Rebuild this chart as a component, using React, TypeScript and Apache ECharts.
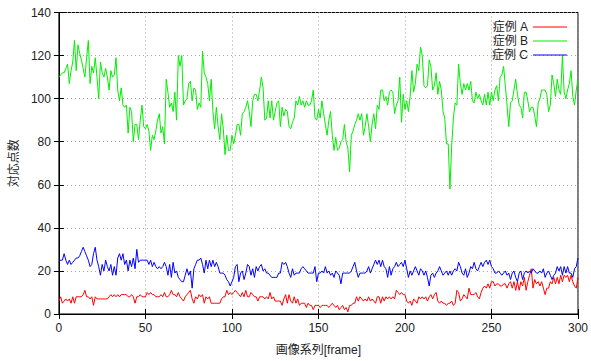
import React, { useEffect, useRef } from "react";
import * as echarts from "echarts";

const seriesNames = ["症例 A", "症例 B", "症例 C"];
const xTitle = "画像系列[frame]";
const yTitle = "対応点数";

// values per frame 0..300
const caseA = [
  6, 8, 5, 6, 7, 6, 7, 5, 8, 5, 8, 8, 8, 8, 9, 11, 8, 8, 7, 8,
  4, 8, 7, 7, 7, 7, 7, 7, 7, 8, 9, 8, 9, 8, 9, 8, 9, 9, 9, 9,
  8, 8, 9, 8, 5, 8, 8, 9, 8, 8, 8, 10, 9, 10, 9, 9, 8, 8, 8, 9,
  8, 10, 8, 8, 9, 11, 9, 9, 8, 10, 8, 7, 6, 8, 9, 10, 11, 7, 5, 8,
  7, 9, 8, 9, 5, 8, 7, 8, 5, 5, 5, 5, 5, 5, 7, 8, 8, 11, 9, 10,
  9, 10, 11, 10, 9, 8, 10, 8, 11, 8, 8, 10, 9, 8, 8, 6, 8, 8, 8, 7,
  8, 7, 10, 7, 8, 6, 6, 6, 6, 4, 7, 9, 5, 9, 6, 5, 8, 5, 7, 4,
  5, 5, 5, 3, 5, 4, 4, 2, 4, 4, 4, 3, 4, 4, 4, 4, 3, 4, 5, 4,
  3, 4, 2, 3, 4, 2, 3, 1, 4, 4, 5, 5, 8, 6, 8, 7, 6, 7, 6, 8,
  6, 7, 6, 5, 8, 8, 5, 8, 6, 8, 7, 8, 7, 8, 7, 11, 10, 9, 10, 9,
  9, 6, 5, 6, 4, 7, 6, 5, 8, 7, 8, 7, 8, 6, 8, 9, 7, 9, 10, 6,
  5, 6, 5, 5, 4, 5, 5, 6, 4, 5, 11, 10, 6, 7, 9, 8, 7, 12, 9, 9,
  9, 10, 8, 7, 10, 12, 13, 12, 14, 12, 15, 15, 13, 14, 14, 13, 13, 14, 14, 12,
  14, 15, 12, 15, 11, 15, 11, 15, 13, 17, 11, 15, 18, 21, 12, 16, 14, 15, 13, 15,
  12, 9, 12, 12, 15, 14, 17, 14, 17, 14, 18, 15, 18, 17, 18, 15, 18, 15, 13, 12,
  17,
];

const caseB = [
  110, 111, 112, 112, 114, 116, 107, 113, 117, 127, 113, 125, 121, 118, 114, 110, 119, 127, 107, 115,
  112, 119, 110, 100, 117, 112, 110, 114, 110, 104, 113, 110, 111, 119, 104, 99, 105, 97, 96, 97,
  84, 96, 94, 80, 88, 88, 81, 90, 97, 87, 86, 88, 85, 76, 83, 81, 85, 90, 93, 84,
  87, 79, 109, 103, 96, 98, 94, 103, 90, 120, 115, 120, 97, 99, 100, 107, 108, 99, 105, 104,
  95, 98, 96, 122, 112, 110, 107, 99, 109, 94, 86, 96, 87, 81, 93, 86, 74, 83, 76, 76,
  83, 79, 83, 88, 88, 83, 93, 94, 96, 99, 94, 87, 99, 102, 102, 99, 104, 110, 105, 90,
  91, 99, 91, 99, 90, 94, 98, 99, 87, 96, 92, 95, 94, 87, 86, 89, 91, 99, 97, 101,
  97, 99, 96, 99, 97, 97, 99, 104, 91, 90, 95, 91, 99, 93, 88, 83, 90, 94, 83, 76,
  82, 76, 77, 80, 81, 88, 80, 77, 66, 83, 85, 88, 90, 93, 90, 93, 83, 87, 93, 87,
  80, 88, 93, 86, 97, 95, 104, 104, 99, 101, 97, 103, 104, 103, 93, 97, 99, 110, 89, 102,
  95, 99, 94, 101, 113, 103, 107, 116, 113, 124, 120, 106, 105, 106, 118, 115, 104, 106, 112, 102,
  108, 104, 94, 91, 79, 79, 58, 78, 91, 98, 97, 116, 107, 102, 107, 104, 107, 104, 108, 99,
  98, 103, 100, 102, 99, 97, 102, 97, 103, 97, 103, 99, 104, 106, 99, 110, 111, 115, 106, 97,
  87, 98, 99, 104, 109, 102, 97, 96, 91, 103, 103, 99, 94, 96, 96, 92, 87, 98, 100, 104,
  104, 104, 102, 94, 97, 111, 107, 101, 109, 104, 102, 120, 103, 100, 104, 107, 113, 101, 97, 104,
  109,
];

const caseC = [
  24, 25, 25, 28, 25, 23, 25, 23, 24, 25, 26, 26, 27, 29, 31, 29, 27, 25, 22, 23,
  28, 31, 25, 22, 18, 23, 20, 25, 22, 20, 23, 18, 22, 18, 26, 28, 25, 28, 23, 25,
  20, 25, 22, 26, 21, 30, 24, 25, 25, 25, 25, 25, 23, 25, 22, 24, 22, 21, 22, 21,
  22, 24, 22, 18, 23, 17, 24, 19, 20, 17, 16, 15, 15, 18, 21, 18, 20, 12, 21, 23,
  25, 25, 26, 23, 19, 25, 21, 25, 22, 25, 22, 24, 22, 19, 19, 19, 18, 16, 15, 13,
  15, 17, 22, 23, 15, 19, 20, 16, 19, 23, 22, 18, 21, 17, 22, 20, 22, 23, 20, 21,
  19, 19, 18, 17, 17, 17, 17, 19, 19, 24, 23, 24, 22, 19, 17, 21, 18, 19, 19, 19,
  21, 22, 21, 20, 19, 19, 19, 19, 22, 15, 19, 19, 20, 19, 22, 19, 20, 18, 19, 17,
  20, 19, 18, 14, 19, 19, 19, 19, 19, 20, 22, 24, 20, 17, 19, 19, 19, 19, 20, 22,
  19, 21, 23, 25, 23, 25, 22, 25, 22, 21, 17, 22, 18, 21, 22, 24, 22, 23, 24, 22,
  25, 21, 17, 20, 18, 20, 22, 20, 18, 21, 20, 18, 20, 17, 13, 18, 19, 17, 19, 20,
  22, 20, 18, 19, 20, 18, 20, 18, 20, 21, 20, 24, 22, 19, 18, 21, 17, 19, 22, 21,
  24, 21, 20, 22, 24, 22, 24, 25, 23, 25, 22, 21, 19, 19, 20, 19, 18, 19, 20, 18,
  19, 16, 19, 20, 17, 15, 19, 20, 16, 19, 20, 19, 20, 19, 21, 20, 19, 19, 20, 19,
  21, 17, 19, 20, 18, 16, 18, 19, 22, 20, 22, 18, 22, 19, 22, 19, 19, 17, 21, 22,
  26,
];

const colors = ["#ff0000", "#00ee00", "#0000ff"];

const FONT = "'Liberation Sans', 'Noto Sans CJK JP', sans-serif";
const LEGEND_ICON = "path://M0,0H34V1H0Z";

export default function App() {
  const ref = useRef<HTMLDivElement>(null);
  useEffect(() => {
    if (!ref.current) return;
    const chart = echarts.init(ref.current, undefined, { renderer: "svg" });
    const toPairs = (arr: number[]) => arr.map((v, i) => [i, v]);
    const all = [caseA, caseB, caseC];
    const tickCommon = { show: true, inside: true, length: 5, lineStyle: { color: "#000", width: 1 } };
    const gridLine = { show: true, lineStyle: { color: "#a0a0a0", type: [1, 3] as any, width: 1 } };
    chart.setOption({
      animation: false,
      textStyle: { fontFamily: FONT },
      grid: { left: 58.5, right: 12, top: 12.5, bottom: 45.5, show: true, borderColor: "#000", borderWidth: 1, backgroundColor: "transparent" },
      legend: {
        orient: "vertical",
        right: 19,
        top: 16,
        align: "right",
        itemWidth: 34,
        itemHeight: 12,
        itemGap: 2,
        icon: LEGEND_ICON,
        textStyle: { fontSize: 12, color: "#222", fontFamily: FONT },
        data: seriesNames,
      },
      xAxis: [
        {
          type: "value",
          min: 0,
          max: 300,
          interval: 50,
          name: xTitle,
          nameLocation: "middle",
          nameGap: 30,
          nameTextStyle: { fontSize: 12, color: "#222", fontFamily: FONT },
          axisLine: { show: true, lineStyle: { color: "#000" } },
          axisTick: tickCommon,
          axisLabel: { fontSize: 12, color: "#222", margin: 8 },
          splitLine: gridLine,
        },
        {
          type: "value",
          position: "top",
          min: 0,
          max: 300,
          interval: 50,
          axisLine: { show: true, lineStyle: { color: "#000" } },
          axisTick: tickCommon,
          axisLabel: { show: false },
          splitLine: { show: false },
        },
      ],
      yAxis: [
        {
          type: "value",
          min: 0,
          max: 140,
          interval: 20,
          name: yTitle,
          nameLocation: "middle",
          nameGap: 38,
          nameTextStyle: { fontSize: 12, color: "#222", fontFamily: FONT },
          axisLine: { show: true, lineStyle: { color: "#000" } },
          axisTick: tickCommon,
          axisLabel: { fontSize: 12, color: "#222", margin: 8 },
          splitLine: gridLine,
        },
        {
          type: "value",
          position: "right",
          min: 0,
          max: 140,
          interval: 20,
          axisLine: { show: true, lineStyle: { color: "#000" } },
          axisTick: tickCommon,
          axisLabel: { show: false },
          splitLine: { show: false },
        },
      ],
      series: all.map((arr, k) => ({
        name: seriesNames[k],
        type: "line",
        xAxisIndex: 0,
        yAxisIndex: 0,
        data: toPairs(arr),
        showSymbol: false,
        symbol: "none",
        lineStyle: { color: colors[k], width: 1 },
        itemStyle: { color: colors[k] },
        z: 2 + k,
      })),
    });
    return () => chart.dispose();
  }, []);
  return <div ref={ref} style={{ width: 591, height: 361, position: "fixed", left: 0, top: 0, background: "#fff" }} />;
}
